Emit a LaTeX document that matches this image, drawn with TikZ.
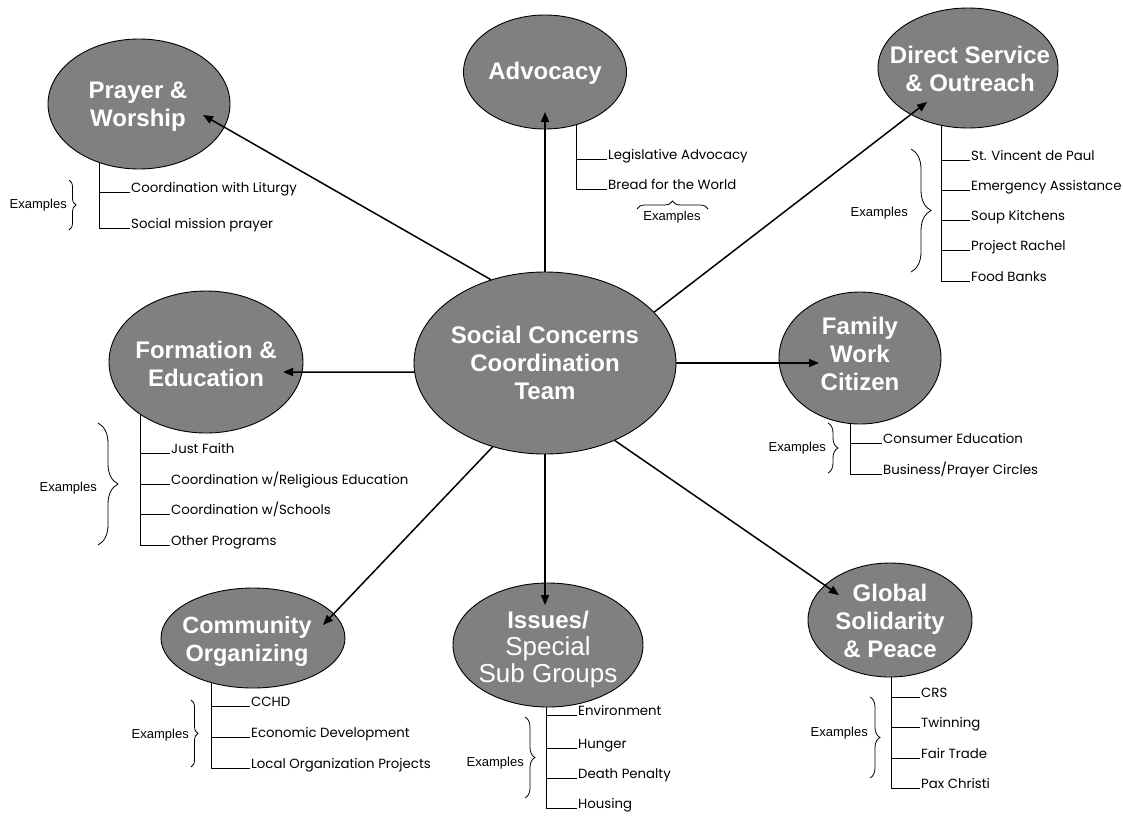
\documentclass[tikz,border=0pt]{standalone}
\usepackage{fontspec}
\setmainfont{Liberation Sans}
\newfontfamily\itemfont{Poppins}
\usetikzlibrary{arrows.meta,shapes.geometric,decorations.pathreplacing,backgrounds}
\definecolor{topicgray}{HTML}{808080}
\tikzset{
  topic/.style={ellipse,draw=black,line width=0.9pt,fill=topicgray,inner sep=0pt},
  title/.style={text=white,align=center,inner sep=0pt,font=\bfseries\fontsize{24}{28}\selectfont},
  example/.style={anchor=base west,inner xsep=1pt,inner ysep=0pt,font=\itemfont\fontsize{13.3}{15}\selectfont},
  exlabel/.style={anchor=east,inner sep=0pt,font=\fontsize{13}{15}\selectfont},
  spoke/.style={line width=1.5pt,-{Triangle[length=10pt,width=8pt]}},
  branch/.style={line width=0.9pt},
  exbrace/.style={line width=0.8pt,decorate,decoration={brace,amplitude=#1}}
}

\begin{document}
\begin{tikzpicture}[x=1pt,y=-1pt]
\useasboundingbox (0,0) rectangle (1123,817);

\node[topic,minimum width=262pt,minimum height=182pt] (team) at (545,363) {};
\node[topic,minimum width=182pt,minimum height=130pt] (prayer) at (139,104) {};
\node[topic,minimum width=163pt,minimum height=114pt] (advocacy) at (545,72) {};
\node[topic,minimum width=180pt,minimum height=120pt] (service) at (968,68) {};
\node[topic,minimum width=194pt,minimum height=142pt] (formation) at (206,362) {};
\node[topic,minimum width=162pt,minimum height=132pt] (family) at (860,358) {};
\node[topic,minimum width=184pt,minimum height=100pt] (community) at (253,638) {};
\node[topic,minimum width=190pt,minimum height=124pt] (issues) at (548,645) {};
\node[topic,minimum width=164pt,minimum height=114pt] (global) at (890,620) {};

\node[title] (team-t) at (545,363) {Social Concerns\\Coordination\\Team};
\node[title] (prayer-t) at (138,107) {Prayer \&\\Worship};
\node[title] (advocacy-t) at (545,73) {Advocacy};
\node[title] (service-t) at (970,69) {Direct Service\\\& Outreach};
\node[title] (formation-t) at (206,364) {Formation \&\\Education};
\node[title] (family-t) at (860,354) {Family\\Work\\Citizen};
\node[title,font=\bfseries\fontsize{23.5}{28}\selectfont] (community-t) at (247,641) {Community\\Organizing};
\node[title,font=\bfseries\fontsize{24}{27}\selectfont] (issues-t) at (548,649) {Issues/\\\mdseries\fontsize{26}{27}\selectfont Special\\\mdseries\fontsize{26}{27}\selectfont Sub Groups};
\node[title] (global-t) at (890,621) {Global\\Solidarity\\\& Peace};

\node[example] (prayer-1) at (130,192) {Coordination with Liturgy};
\node[example] (prayer-2) at (130,228) {Social mission prayer};
\node[example] (advocacy-1) at (607,159) {Legislative Advocacy};
\node[example] (advocacy-2) at (607,189) {Bread for the World};
\node[example] (service-1) at (970,160) {St. Vincent de Paul};
\node[example] (service-2) at (970,190) {Emergency Assistance};
\node[example] (service-3) at (970,220) {Soup Kitchens};
\node[example] (service-4) at (970,250) {Project Rachel};
\node[example] (service-5) at (970,281) {Food Banks};
\node[example] (formation-1) at (170,453) {Just Faith};
\node[example] (formation-2) at (170,484) {Coordination w/Religious Education};
\node[example] (formation-3) at (170,514) {Coordination w/Schools};
\node[example] (formation-4) at (170,545) {Other Programs};
\node[example] (family-1) at (882,443) {Consumer Education};
\node[example] (family-2) at (882,474) {Business/Prayer Circles};
\node[example] (community-1) at (250,706) {CCHD};
\node[example] (community-2) at (250,737) {Economic Development};
\node[example] (community-3) at (250,768) {Local Organization Projects};
\node[example] (issues-1) at (577,715) {Environment};
\node[example] (issues-2) at (577,748) {Hunger};
\node[example] (issues-3) at (577,778) {Death Penalty};
\node[example] (issues-4) at (577,808) {Housing};
\node[example] (global-1) at (920,697) {CRS};
\node[example] (global-2) at (920,727) {Twinning};
\node[example] (global-3) at (920,758) {Fair Trade};
\node[example] (global-4) at (920,788) {Pax Christi};

\coordinate (prayer-r) at (99,104);
\coordinate (advocacy-r) at (576,72);
\coordinate (service-r) at (941,68);
\coordinate (formation-r) at (140,362);
\coordinate (family-r) at (850,358);
\coordinate (community-r) at (211,638);
\coordinate (issues-r) at (546,645);
\coordinate (global-r) at (891,620);

\begin{scope}[on background layer]
\draw[branch] (prayer-r) |- (prayer-2.base west);
\draw[branch] (prayer-r |- prayer-1.base west) -- (prayer-1.base west);
\draw[branch] (advocacy-r) |- (advocacy-2.base west);
\draw[branch] (advocacy-r |- advocacy-1.base west) -- (advocacy-1.base west);
\draw[branch] (service-r) |- (service-5.base west);
\draw[branch] (service-r |- service-1.base west) -- (service-1.base west);
\draw[branch] (service-r |- service-2.base west) -- (service-2.base west);
\draw[branch] (service-r |- service-3.base west) -- (service-3.base west);
\draw[branch] (service-r |- service-4.base west) -- (service-4.base west);
\draw[branch] (formation-r) |- (formation-4.base west);
\draw[branch] (formation-r |- formation-1.base west) -- (formation-1.base west);
\draw[branch] (formation-r |- formation-2.base west) -- (formation-2.base west);
\draw[branch] (formation-r |- formation-3.base west) -- (formation-3.base west);
\draw[branch] (family-r) |- (family-2.base west);
\draw[branch] (family-r |- family-1.base west) -- (family-1.base west);
\draw[branch] (community-r) |- (community-3.base west);
\draw[branch] (community-r |- community-1.base west) -- (community-1.base west);
\draw[branch] (community-r |- community-2.base west) -- (community-2.base west);
\draw[branch] (issues-r) |- (issues-4.base west);
\draw[branch] (issues-r |- issues-1.base west) -- (issues-1.base west);
\draw[branch] (issues-r |- issues-2.base west) -- (issues-2.base west);
\draw[branch] (issues-r |- issues-3.base west) -- (issues-3.base west);
\draw[branch] (global-r) |- (global-4.base west);
\draw[branch] (global-r |- global-1.base west) -- (global-1.base west);
\draw[branch] (global-r |- global-2.base west) -- (global-2.base west);
\draw[branch] (global-r |- global-3.base west) -- (global-3.base west);
\end{scope}

\draw[exbrace=7] (69,180) -- (69,230);
\draw[exbrace=8] (637,209) -- (708,209);
\draw[exbrace=20] (911,149) -- (911,272);
\draw[exbrace=20] (98,423) -- (98,545);
\draw[exbrace=10] (828,423) -- (828,473);
\draw[exbrace=7] (191,700) -- (191,767);
\draw[exbrace=10] (525,717) -- (525,798);
\draw[exbrace=10] (870,697) -- (870,778);

\node[exlabel] (prayer-ex) at (67,205) {Examples};
\node[exlabel,anchor=north] (advocacy-ex) at (672,211) {Examples};
\node[exlabel] (service-ex) at (908,213) {Examples};
\node[exlabel] (formation-ex) at (97,488) {Examples};
\node[exlabel] (family-ex) at (826,448) {Examples};
\node[exlabel] (community-ex) at (189,735) {Examples};
\node[exlabel] (issues-ex) at (524,763) {Examples};
\node[exlabel] (global-ex) at (868,733) {Examples};

\coordinate (prayer-in) at (203,115);
\coordinate (advocacy-in) at (545,112);
\coordinate (service-in) at (927,102);
\coordinate (formation-in) at (283,372);
\coordinate (family-in) at (819,363);
\coordinate (community-in) at (323,625);
\coordinate (issues-in) at (545,605);
\coordinate (global-in) at (839,595);

\draw[spoke] (team.123) -- (prayer-in);
\draw[spoke] (team.90) -- (advocacy-in);
\draw[spoke] (team.25) -- (service-in);
\draw[spoke] (team.184) -- (formation-in);
\draw[spoke] (team.0) -- (family-in);
\draw[spoke] (team.238) -- (community-in);
\draw[spoke] (team.270) -- (issues-in);
\draw[spoke] (team.312) -- (global-in);
\end{tikzpicture}
\end{document}
